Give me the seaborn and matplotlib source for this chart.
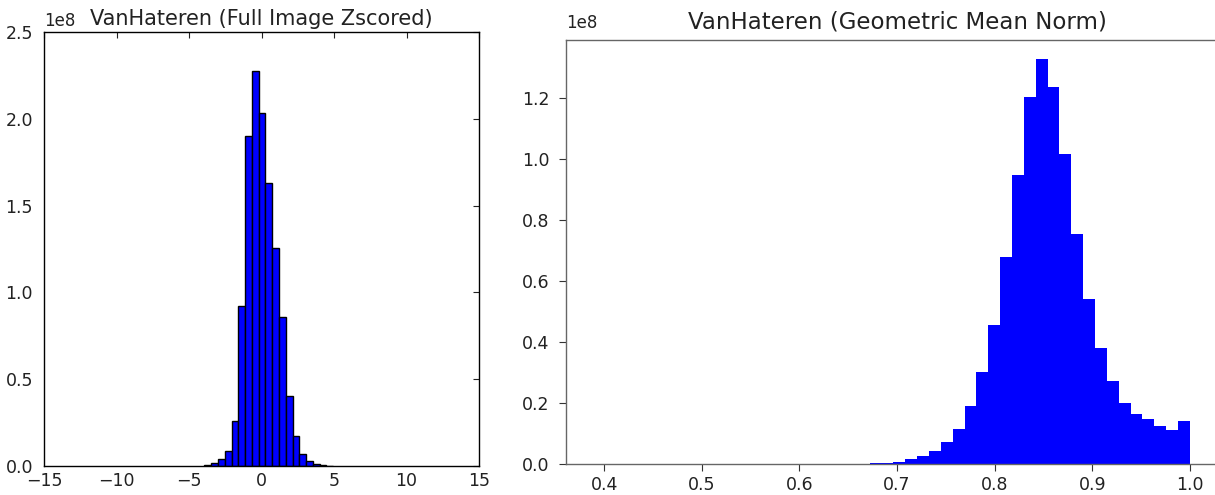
import numpy as np
import matplotlib
matplotlib.use("Agg")
import matplotlib.pyplot as plt
import seaborn as sns
import pandas as pd

# ---- data (counts in units of 1e8) ----
# Left: VanHateren full image z-scored histogram
left_edges = [-3.935, -3.4675, -3.0, -2.5325, -2.065, -1.5975, -1.13, -0.6625,
              -0.195, 0.2725, 0.74, 1.2075, 1.675, 2.1425, 2.61, 3.0775, 3.545,
              4.0125, 4.48, 4.9475]
left_counts = [0.003, 0.015, 0.038, 0.086, 0.26, 0.92, 1.90, 2.275, 2.035, 1.628,
               1.258, 0.860, 0.403, 0.173, 0.067, 0.029, 0.013, 0.006, 0.002]

# Right: VanHateren geometric mean norm histogram (bins of width ~0.01215 ending at 1.0)
right_lo = 0.672
right_hi = 1.0
right_counts = [0.004, 0.004, 0.008, 0.015, 0.026, 0.043, 0.071, 0.115, 0.190,
                0.303, 0.456, 0.680, 0.948, 1.202, 1.328, 1.237, 1.016, 0.754,
                0.540, 0.379, 0.273, 0.199, 0.163, 0.146, 0.126, 0.111, 0.141]

left_title = "VanHateren (Full Image Zscored)"
right_title = "VanHateren (Geometric Mean Norm)"
left_xticks = [-15, -10, -5, 0, 5, 10, 15]
left_yticks = [0.0, 0.5, 1.0, 1.5, 2.0, 2.5]
right_xticks = [0.4, 0.5, 0.6, 0.7, 0.8, 0.9, 1.0]
right_yticks = [0.0, 0.2, 0.4, 0.6, 0.8, 1.0, 1.2]

sns.set_style("white")
plt.rcParams['font.family'] = ['DejaVu Sans']

W, H = 1215, 495
fig = plt.figure(figsize=(W / 100, H / 100), dpi=100)
txt = '#222222'

# ---------------- left panel ----------------
ax1 = fig.add_axes([44 / W, 1 - 466 / H, 435 / W, 434 / H])
le = np.array(left_edges)
df_l = pd.DataFrame({"x": (le[:-1] + le[1:]) / 2,
                     "w": np.array(left_counts) * 1e8})
sns.histplot(data=df_l, x="x", weights="w", bins=list(left_edges), ax=ax1,
             color='#0000ff', edgecolor='black', linewidth=1.0, alpha=1.0,
             element="bars")
ax1.set_xlim(-15, 15)
ax1.set_ylim(0, 2.5e8)
ax1.set_xticks(left_xticks)
ax1.set_yticks([v * 1e8 for v in left_yticks])
ax1.set_xticklabels([f"{v}".replace('-', '\u2212') for v in left_xticks])
ax1.set_yticklabels([f"{v:.1f}" for v in left_yticks])
ax1.text(0.0, 1.005, "1e8", transform=ax1.transAxes, fontsize=12, color=txt,
         ha='left', va='bottom')
ax1.tick_params(direction='in', top=True, right=True, length=4, width=0.8,
                labelsize=12.5, colors=txt, pad=8)
ax1.tick_params(axis='x', pad=4.5)
for s in ax1.spines.values():
    s.set_color('black')
    s.set_linewidth(1.0)
ax1.set_ylabel("")
ax1.set_xlabel("")
ax1.set_title(left_title, fontsize=15, color=txt, pad=5)

# ---------------- right panel ----------------
ax2 = fig.add_axes([566 / W, 1 - 464 / H, (1228 - 566) / W, 424 / H])
n = len(right_counts)
re_ = np.linspace(right_lo, right_hi, n + 1)
df_r = pd.DataFrame({"x": (re_[:-1] + re_[1:]) / 2,
                     "w": np.array(right_counts) * 1e8})
sns.histplot(data=df_r, x="x", weights="w", bins=list(re_), ax=ax2,
             color='#0000ff', element="step", fill=True, linewidth=0, alpha=1.0)
ax2.set_xlim(0.361, 1.039)
ax2.set_ylim(0, 1.39e8)
ax2.set_xticks(right_xticks)
ax2.set_yticks([v * 1e8 for v in right_yticks])
ax2.set_xticklabels([f"{v:.1f}" for v in right_xticks])
ax2.set_yticklabels([f"{v:.1f}" for v in right_yticks])
ax2.text(0.0, 1.02, "1e8", transform=ax2.transAxes, fontsize=12, color=txt,
         ha='left', va='bottom')
ax2.tick_params(direction='out', length=5, width=0.8, labelsize=12.5,
                colors='#333333', labelcolor=txt, pad=7, bottom=True, left=True)
ax2.tick_params(axis='x', pad=4)
for k, s in ax2.spines.items():
    s.set_color('#666666')
    s.set_linewidth(1.0)
ax2.set_ylabel("")
ax2.set_xlabel("")
ax2.set_title(right_title, fontsize=16.5, color=txt, pad=8)

fig.savefig("out.png", dpi=100)
